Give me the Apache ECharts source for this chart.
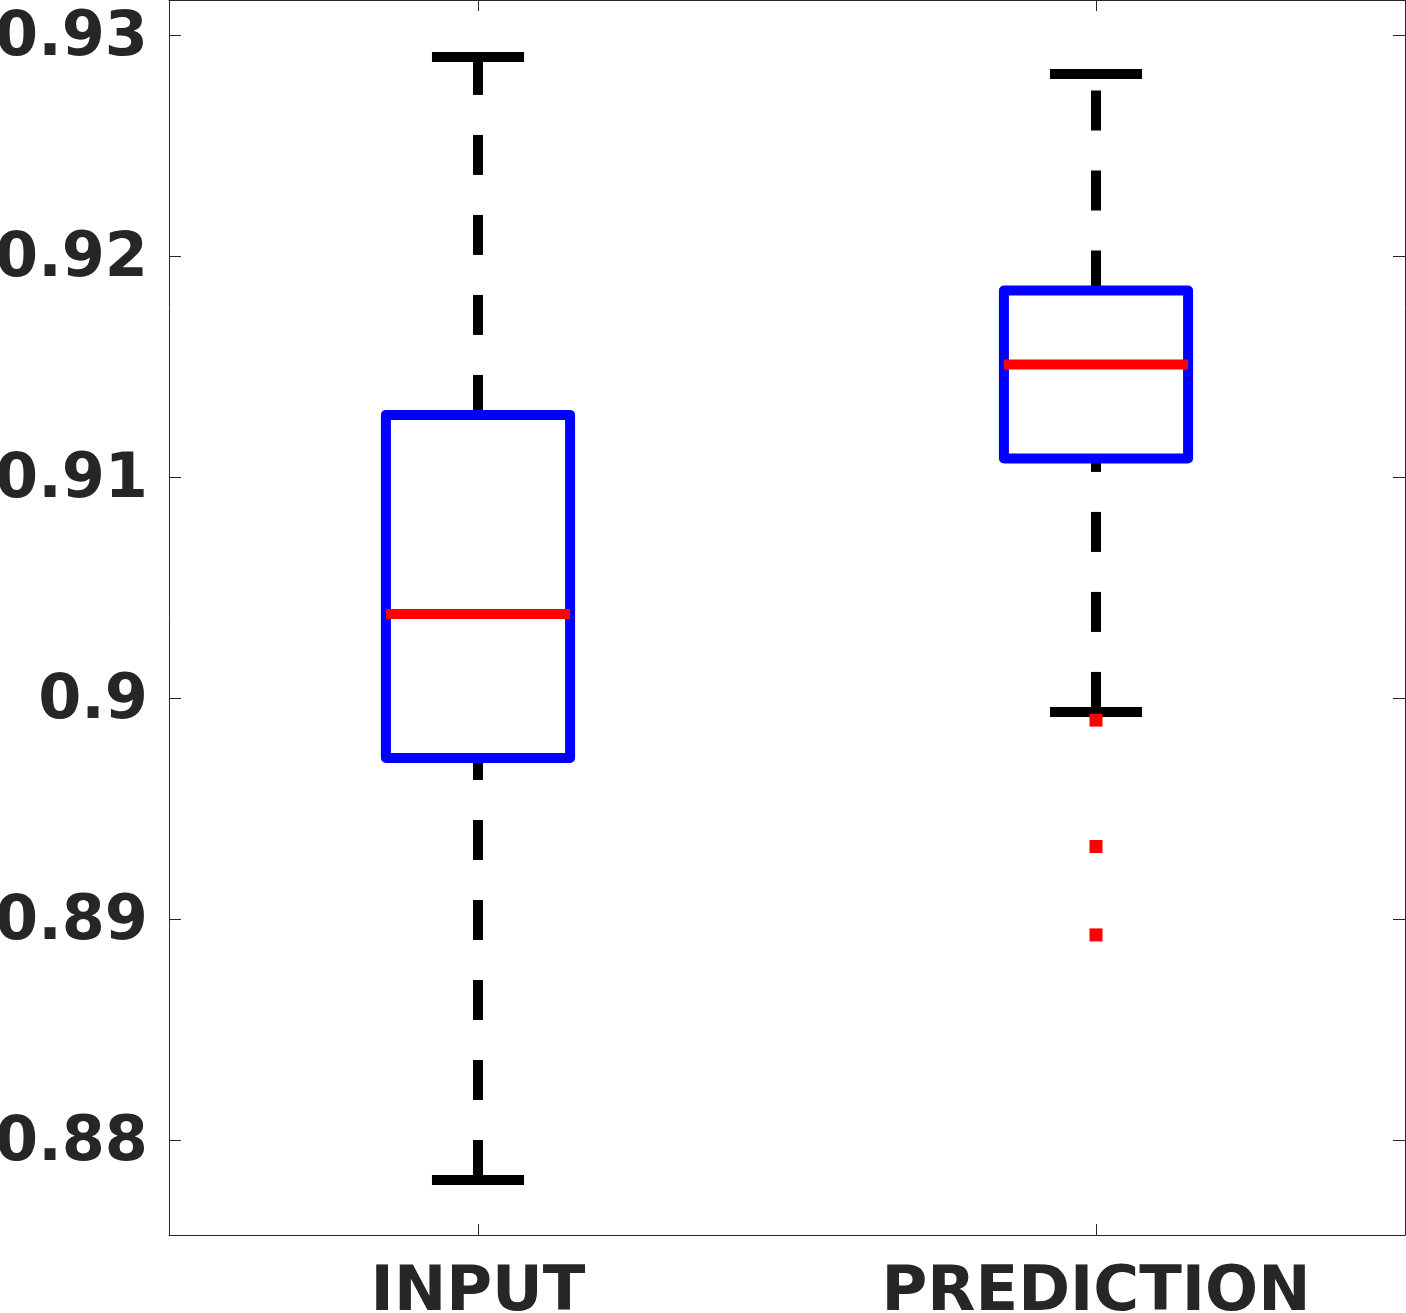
<!DOCTYPE html>
<html>
<head>
<meta charset="utf-8">
<script src="https://cdn.jsdelivr.net/npm/echarts@6/dist/echarts.min.js"></script>
<style>
  html, body { margin: 0; padding: 0; background: #ffffff; }
  #chart { width: 1406px; height: 1313px; }
</style>
</head>
<body>
<div id="chart"></div>
<script>
// ---- data ----
const categories = ['INPUT', 'PREDICTION'];
const lowerWhisker = [0.87819, 0.89937];
const q1Values = [0.89729, 0.91084];
const medianValues = [0.90380, 0.91509];
const q3Values = [0.91281, 0.91844];
const upperWhisker = [0.92900, 0.92824];
const outlierValues = [[], [0.89900, 0.89328, 0.88928]];
const yMin = 0.875701;
const yMax = 0.931584;

// ---- build series data from arrays ----
const boxData = categories.map((c, i) => [i, lowerWhisker[i], q1Values[i], medianValues[i], q3Values[i], upperWhisker[i]]);
const outlierData = [];
outlierValues.forEach((arr, i) => arr.forEach(v => outlierData.push([i, v])));

const AXIS_COLOR = '#262626';
const FONT = "'DejaVu Sans', sans-serif";

function renderBox(params, api) {
  const idx = api.value(0);
  const lo = api.coord([idx, api.value(1)]);
  const q1 = api.coord([idx, api.value(2)]);
  const med = api.coord([idx, api.value(3)]);
  const q3 = api.coord([idx, api.value(4)]);
  const hi = api.coord([idx, api.value(5)]);
  const band = api.size([1, 0])[0];
  const cx = lo[0];
  const hw = band * 0.149;
  const cap = band * 0.0745;
  const lw = 10;
  const whiskerStyle = { stroke: '#000000', lineWidth: lw, lineDash: [40, 40], lineCap: 'butt', fill: null };
  const capStyle = { stroke: '#000000', lineWidth: lw, lineCap: 'butt', fill: null };
  return {
    type: 'group',
    children: [
      { type: 'line', shape: { x1: cx, y1: q3[1], x2: cx, y2: hi[1] }, style: whiskerStyle },
      { type: 'line', shape: { x1: cx, y1: lo[1], x2: cx, y2: q1[1] }, style: whiskerStyle },
      { type: 'line', shape: { x1: cx - cap, y1: hi[1], x2: cx + cap, y2: hi[1] }, style: capStyle },
      { type: 'line', shape: { x1: cx - cap, y1: lo[1], x2: cx + cap, y2: lo[1] }, style: capStyle },
      { type: 'rect', shape: { x: cx - hw, y: q3[1], width: 2 * hw, height: q1[1] - q3[1] },
        style: { fill: null, stroke: '#0000ff', lineWidth: lw, lineJoin: 'round' } },
      { type: 'line', shape: { x1: cx - hw, y1: med[1], x2: cx + hw, y2: med[1] },
        style: { stroke: '#ff0000', lineWidth: lw, lineCap: 'butt' } }
    ]
  };
}

function yLabel(v) {
  const r = Math.round(v * 100) / 100;
  if (Math.abs(v - r) > 1e-7) return '';
  return '{v|' + String(r) + '}';
}

const chart = echarts.init(document.getElementById('chart'), null, { renderer: 'canvas' });
chart.setOption({
  animation: false,
  backgroundColor: '#ffffff',
  grid: { left: 169, right: 1, top: 0, bottom: 78, containLabel: false, outerBoundsMode: 'none' },
  xAxis: [
    {
      type: 'category', data: categories, position: 'bottom', boundaryGap: true,
      axisLine: { show: true, lineStyle: { color: AXIS_COLOR, width: 1 } },
      axisTick: { show: true, inside: true, length: 11, alignWithLabel: true, lineStyle: { color: AXIS_COLOR } },
      axisLabel: { show: true, margin: 27, color: AXIS_COLOR, fontFamily: FONT, fontWeight: 'bold', fontSize: 62.5 },
      splitLine: { show: false }
    },
    {
      type: 'category', data: categories, position: 'top', boundaryGap: true,
      axisLine: { show: true, lineStyle: { color: AXIS_COLOR, width: 1 } },
      axisTick: { show: true, inside: true, length: 11, alignWithLabel: true, lineStyle: { color: AXIS_COLOR } },
      axisLabel: { show: false },
      splitLine: { show: false }
    }
  ],
  yAxis: [
    {
      type: 'value', position: 'left', min: yMin, max: yMax, splitNumber: 5,
      axisLine: { show: true, lineStyle: { color: AXIS_COLOR, width: 1 } },
      axisTick: { show: true, inside: true, length: 12, lineStyle: { color: AXIS_COLOR } },
      axisLabel: { show: true, margin: 21, color: AXIS_COLOR, fontFamily: FONT, fontWeight: 'bold', fontSize: 62,
        formatter: yLabel, showMinLabel: false, showMaxLabel: false,
        rich: { v: { color: AXIS_COLOR, fontFamily: FONT, fontWeight: 'bold', fontSize: 62, padding: [8, 0, 0, 0] } } },
      splitLine: { show: false }
    },
    {
      type: 'value', position: 'right', min: yMin, max: yMax, splitNumber: 5,
      axisLine: { show: true, lineStyle: { color: AXIS_COLOR, width: 1 } },
      axisTick: { show: true, inside: true, length: 12, lineStyle: { color: AXIS_COLOR } },
      axisLabel: { show: false },
      splitLine: { show: false }
    }
  ],
  series: [
    {
      type: 'custom', name: 'box', xAxisIndex: 0, yAxisIndex: 0,
      renderItem: renderBox, data: boxData,
      encode: { x: 0, y: [1, 2, 3, 4, 5] }, clip: false, silent: true
    },
    {
      type: 'scatter', name: 'outliers', xAxisIndex: 0, yAxisIndex: 0,
      data: outlierData, symbol: 'rect', symbolSize: 13,
      itemStyle: { color: '#ff0000', opacity: 1 }, silent: true
    }
  ]
});
</script>
</body>
</html>
